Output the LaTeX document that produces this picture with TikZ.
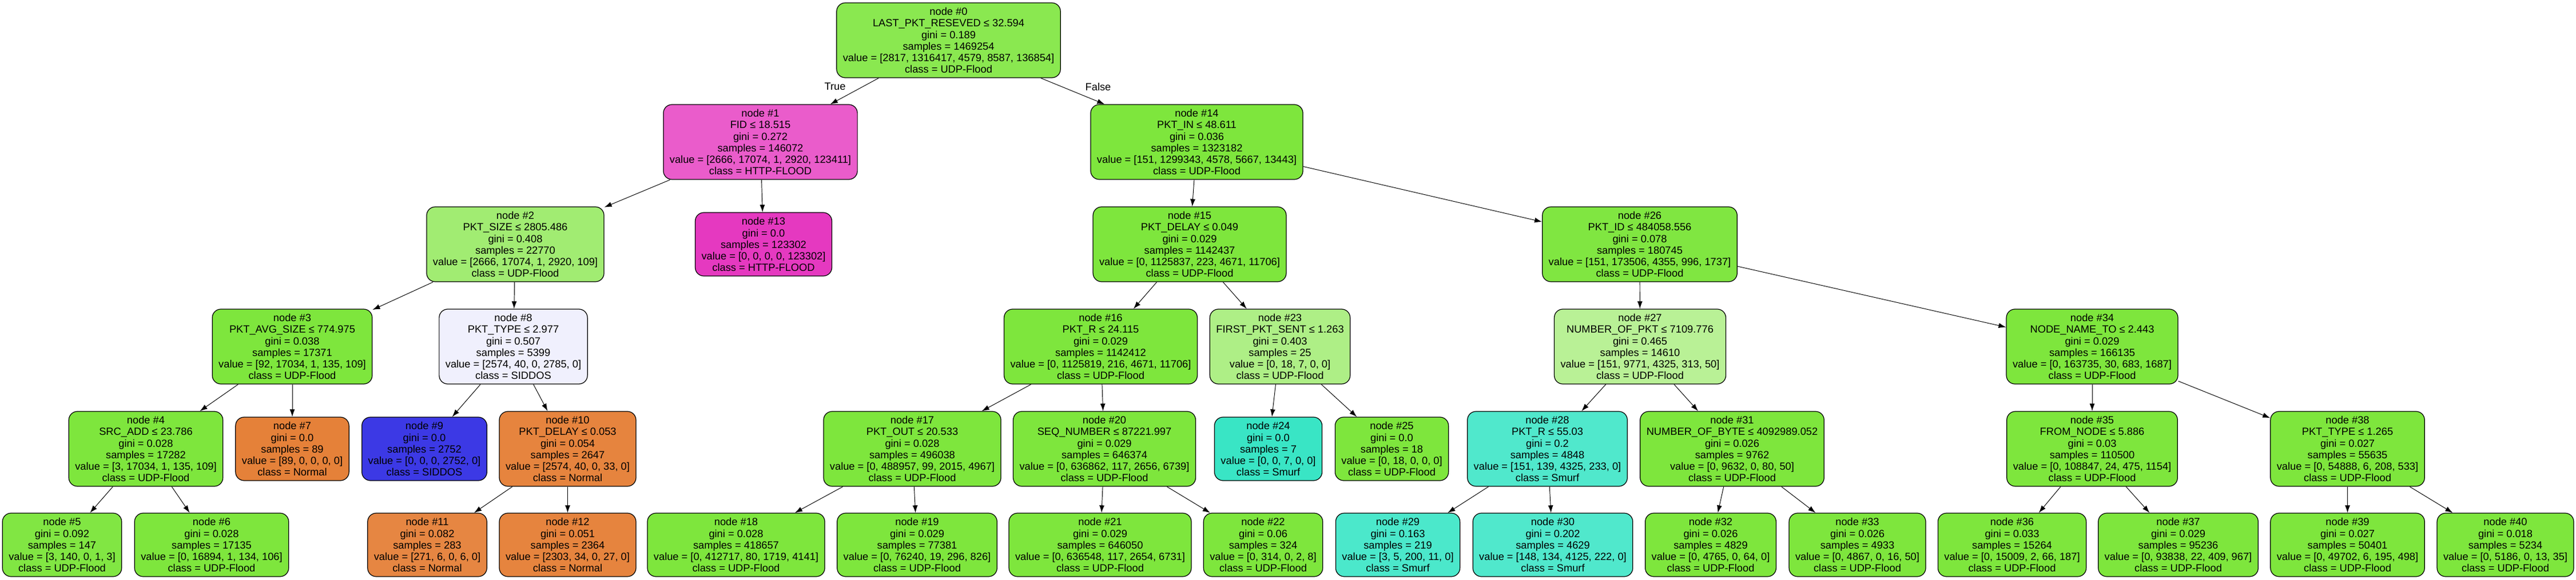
\documentclass[tikz,border=0pt]{standalone}
\usepackage{fontspec}
\setmainfont{Liberation Sans}
\usetikzlibrary{arrows.meta}

\definecolor{udp}{HTML}{7EE63D}
\definecolor{udpa}{HTML}{8AE850}
\definecolor{udpb}{HTML}{A1EC72}
\definecolor{udpc}{HTML}{81E643}
\definecolor{udpd}{HTML}{AEEF86}
\definecolor{udpe}{HTML}{80E641}
\definecolor{udpf}{HTML}{B9F196}
\definecolor{httpa}{HTML}{EA5CCB}
\definecolor{http}{HTML}{E539C0}
\definecolor{normal}{HTML}{E58139}
\definecolor{normala}{HTML}{E6843E}
\definecolor{normalb}{HTML}{E68642}
\definecolor{siddosa}{HTML}{F0F0FD}
\definecolor{siddos}{HTML}{3C39E5}
\definecolor{smurf}{HTML}{39E5C5}
\definecolor{smurfa}{HTML}{50E8CC}
\definecolor{smurfb}{HTML}{4BE8CB}

\begin{document}
\begin{tikzpicture}[treebox/.style={draw, line width=0.7pt, rounded corners=0.3cm, align=center,
		inner xsep=0.22cm, inner ysep=0.1cm, font=\fontsize{10.4pt}{11.4pt}\selectfont},
	splitbox/.style={treebox, minimum height=2.62cm},
	leafbox/.style={treebox, minimum height=2.22cm},
	link/.style={-{Latex[length=0.26cm,width=0.18cm]}, line width=0.55pt},
	lbl/.style={font=\fontsize{10.4pt}{11.4pt}\selectfont}]
			
			\useasboundingbox (0,0) rectangle (90.08,-20.30);
			
			%Nodes
			\node (n0) at (33.17,-1.41) [splitbox, fill=udpa]{node \#0\\LAST\_PKT\_RESEVED ≤ 32.594\\gini = 0.189\\samples = 1469254\\value = [2817, 1316417, 4579, 8587, 136854]\\class = UDP-Flood};
			
			\node (n1) at (26.59,-4.97) [splitbox, fill=httpa]{node \#1\\FID ≤ 18.515\\gini = 0.272\\samples = 146072\\value = [2666, 17074, 1, 2920, 123411]\\class = HTTP-FLOOD};
			\node (n14) at (41.85,-4.97) [splitbox, fill=udp]{node \#14\\PKT\_IN ≤ 48.611\\gini = 0.036\\samples = 1323182\\value = [151, 1299343, 4578, 5667, 13443]\\class = UDP-Flood};
			
			\node (n2) at (18.02,-8.55) [splitbox, fill=udpb]{node \#2\\PKT\_SIZE ≤ 2805.486\\gini = 0.408\\samples = 22770\\value = [2666, 17074, 1, 2920, 109]\\class = UDP-Flood};
			\node (n13) at (26.70,-8.55) [leafbox, fill=http]{node \#13\\gini = 0.0\\samples = 123302\\value = [0, 0, 0, 0, 123302]\\class = HTTP-FLOOD};
			\node (n15) at (41.60,-8.55) [splitbox, fill=udp]{node \#15\\PKT\_DELAY ≤ 0.049\\gini = 0.029\\samples = 1142437\\value = [0, 1125837, 223, 4671, 11706]\\class = UDP-Flood};
			\node (n26) at (57.34,-8.55) [splitbox, fill=udpe]{node \#26\\PKT\_ID ≤ 484058.556\\gini = 0.078\\samples = 180745\\value = [151, 173506, 4355, 996, 1737]\\class = UDP-Flood};
			
			\node (n3) at (10.22,-12.13) [splitbox, fill=udp]{node \#3\\PKT\_AVG\_SIZE ≤ 774.975\\gini = 0.038\\samples = 17371\\value = [92, 17034, 1, 135, 109]\\class = UDP-Flood};
			\node (n8) at (17.95,-12.13) [splitbox, fill=siddosa]{node \#8\\PKT\_TYPE ≤ 2.977\\gini = 0.507\\samples = 5399\\value = [2574, 40, 0, 2785, 0]\\class = SIDDOS};
			\node (n16) at (38.49,-12.13) [splitbox, fill=udp]{node \#16\\PKT\_R ≤ 24.115\\gini = 0.029\\samples = 1142412\\value = [0, 1125819, 216, 4671, 11706]\\class = UDP-Flood};
			\node (n23) at (44.76,-12.13) [splitbox, fill=udpd]{node \#23\\FIRST\_PKT\_SENT ≤ 1.263\\gini = 0.403\\samples = 25\\value = [0, 18, 7, 0, 0]\\class = UDP-Flood};
			\node (n27) at (57.35,-12.13) [splitbox, fill=udpf]{node \#27\\NUMBER\_OF\_PKT ≤ 7109.776\\gini = 0.465\\samples = 14610\\value = [151, 9771, 4325, 313, 50]\\class = UDP-Flood};
			\node (n34) at (73.16,-12.13) [splitbox, fill=udp]{node \#34\\NODE\_NAME\_TO ≤ 2.443\\gini = 0.029\\samples = 166135\\value = [0, 163735, 30, 683, 1687]\\class = UDP-Flood};
			
			\node (n4) at (5.10,-15.71) [splitbox, fill=udp]{node \#4\\SRC\_ADD ≤ 23.786\\gini = 0.028\\samples = 17282\\value = [3, 17034, 1, 135, 109]\\class = UDP-Flood};
			\node (n7) at (10.22,-15.71) [leafbox, fill=normal]{node \#7\\gini = 0.0\\samples = 89\\value = [89, 0, 0, 0, 0]\\class = Normal};
			\node (n9) at (14.84,-15.71) [leafbox, fill=siddos]{node \#9\\gini = 0.0\\samples = 2752\\value = [0, 0, 0, 2752, 0]\\class = SIDDOS};
			\node (n10) at (19.85,-15.71) [splitbox, fill=normala]{node \#10\\PKT\_DELAY ≤ 0.053\\gini = 0.054\\samples = 2647\\value = [2574, 40, 0, 33, 0]\\class = Normal};
			\node (n17) at (31.90,-15.71) [splitbox, fill=udp]{node \#17\\PKT\_OUT ≤ 20.533\\gini = 0.028\\samples = 496038\\value = [0, 488957, 99, 2015, 4967]\\class = UDP-Flood};
			\node (n20) at (38.62,-15.71) [splitbox, fill=udp]{node \#20\\SEQ\_NUMBER ≤ 87221.997\\gini = 0.029\\samples = 646374\\value = [0, 636862, 117, 2656, 6739]\\class = UDP-Flood};
			\node (n24) at (44.35,-15.71) [leafbox, fill=smurf]{node \#24\\gini = 0.0\\samples = 7\\value = [0, 0, 7, 0, 0]\\class = Smurf};
			\node (n25) at (48.67,-15.71) [leafbox, fill=udp]{node \#25\\gini = 0.0\\samples = 18\\value = [0, 18, 0, 0, 0]\\class = UDP-Flood};
			\node (n28) at (54.11,-15.71) [splitbox, fill=smurfa]{node \#28\\PKT\_R ≤ 55.03\\gini = 0.2\\samples = 4848\\value = [151, 139, 4325, 233, 0]\\class = Smurf};
			\node (n31) at (60.57,-15.71) [splitbox, fill=udp]{node \#31\\NUMBER\_OF\_BYTE ≤ 4092989.052\\gini = 0.026\\samples = 9762\\value = [0, 9632, 0, 80, 50]\\class = UDP-Flood};
			\node (n35) at (73.16,-15.71) [splitbox, fill=udp]{node \#35\\FROM\_NODE ≤ 5.886\\gini = 0.03\\samples = 110500\\value = [0, 108847, 24, 475, 1154]\\class = UDP-Flood};
			\node (n38) at (82.09,-15.71) [splitbox, fill=udp]{node \#38\\PKT\_TYPE ≤ 1.265\\gini = 0.027\\samples = 55635\\value = [0, 54888, 6, 208, 533]\\class = UDP-Flood};
			
			\node (n5) at (2.17,-19.07) [leafbox, fill=udpc]{node \#5\\gini = 0.092\\samples = 147\\value = [3, 140, 0, 1, 3]\\class = UDP-Flood};
			\node (n6) at (7.40,-19.07) [leafbox, fill=udp]{node \#6\\gini = 0.028\\samples = 17135\\value = [0, 16894, 1, 134, 106]\\class = UDP-Flood};
			\node (n11) at (14.94,-19.07) [leafbox, fill=normalb]{node \#11\\gini = 0.082\\samples = 283\\value = [271, 6, 0, 6, 0]\\class = Normal};
			\node (n12) at (19.85,-19.07) [leafbox, fill=normala]{node \#12\\gini = 0.051\\samples = 2364\\value = [2303, 34, 0, 27, 0]\\class = Normal};
			\node (n18) at (25.74,-19.07) [leafbox, fill=udp]{node \#18\\gini = 0.028\\samples = 418657\\value = [0, 412717, 80, 1719, 4141]\\class = UDP-Flood};
			\node (n19) at (32.07,-19.07) [leafbox, fill=udp]{node \#19\\gini = 0.029\\samples = 77381\\value = [0, 76240, 19, 296, 826]\\class = UDP-Flood};
			\node (n21) at (38.47,-19.07) [leafbox, fill=udp]{node \#21\\gini = 0.029\\samples = 646050\\value = [0, 636548, 117, 2654, 6731]\\class = UDP-Flood};
			\node (n22) at (44.17,-19.07) [leafbox, fill=udp]{node \#22\\gini = 0.06\\samples = 324\\value = [0, 314, 0, 2, 8]\\class = UDP-Flood};
			\node (n29) at (48.88,-19.07) [leafbox, fill=smurfb]{node \#29\\gini = 0.163\\samples = 219\\value = [3, 5, 200, 11, 0]\\class = Smurf};
			\node (n30) at (54.30,-19.07) [leafbox, fill=smurfa]{node \#30\\gini = 0.202\\samples = 4629\\value = [148, 134, 4125, 222, 0]\\class = Smurf};
			\node (n32) at (59.82,-19.07) [leafbox, fill=udp]{node \#32\\gini = 0.026\\samples = 4829\\value = [0, 4765, 0, 64, 0]\\class = UDP-Flood};
			\node (n33) at (64.95,-19.07) [leafbox, fill=udp]{node \#33\\gini = 0.026\\samples = 4933\\value = [0, 4867, 0, 16, 50]\\class = UDP-Flood};
			\node (n36) at (70.36,-19.07) [leafbox, fill=udp]{node \#36\\gini = 0.033\\samples = 15264\\value = [0, 15009, 2, 66, 187]\\class = UDP-Flood};
			\node (n37) at (76.17,-19.07) [leafbox, fill=udp]{node \#37\\gini = 0.029\\samples = 95236\\value = [0, 93838, 22, 409, 967]\\class = UDP-Flood};
			\node (n39) at (82.09,-19.07) [leafbox, fill=udp]{node \#39\\gini = 0.027\\samples = 50401\\value = [0, 49702, 6, 195, 498]\\class = UDP-Flood};
			\node (n40) at (87.61,-19.07) [leafbox, fill=udp]{node \#40\\gini = 0.018\\samples = 5234\\value = [0, 5186, 0, 13, 35]\\class = UDP-Flood};
			
			%Links
			\draw[link] (n0) -- (n1);
			\draw[link] (n0) -- (n14);
			\draw[link] (n1) -- (n2);
			\draw[link] (n1) -- (n13);
			\draw[link] (n2) -- (n3);
			\draw[link] (n2) -- (n8);
			\draw[link] (n3) -- (n4);
			\draw[link] (n3) -- (n7);
			\draw[link] (n4) -- (n5);
			\draw[link] (n4) -- (n6);
			\draw[link] (n8) -- (n9);
			\draw[link] (n8) -- (n10);
			\draw[link] (n10) -- (n11);
			\draw[link] (n10) -- (n12);
			\draw[link] (n14) -- (n15);
			\draw[link] (n14) -- (n26);
			\draw[link] (n15) -- (n16);
			\draw[link] (n15) -- (n23);
			\draw[link] (n16) -- (n17);
			\draw[link] (n16) -- (n20);
			\draw[link] (n17) -- (n18);
			\draw[link] (n17) -- (n19);
			\draw[link] (n20) -- (n21);
			\draw[link] (n20) -- (n22);
			\draw[link] (n23) -- (n24);
			\draw[link] (n23) -- (n25);
			\draw[link] (n26) -- (n27);
			\draw[link] (n26) -- (n34);
			\draw[link] (n27) -- (n28);
			\draw[link] (n27) -- (n31);
			\draw[link] (n28) -- (n29);
			\draw[link] (n28) -- (n30);
			\draw[link] (n31) -- (n32);
			\draw[link] (n31) -- (n33);
			\draw[link] (n34) -- (n35);
			\draw[link] (n34) -- (n38);
			\draw[link] (n35) -- (n36);
			\draw[link] (n35) -- (n37);
			\draw[link] (n38) -- (n39);
			\draw[link] (n38) -- (n40);
			
			%Variables
			\node (truelbl) at (29.20,-3.02) [lbl]{True};
			\node (falselbl) at (38.40,-3.04) [lbl]{False};
			
			\end{tikzpicture}
\end{document}
